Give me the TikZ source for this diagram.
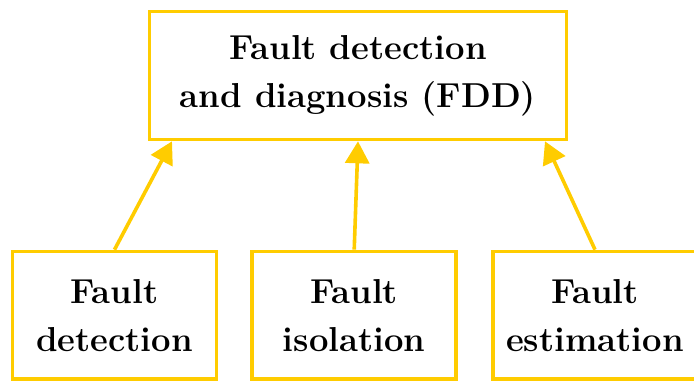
\documentclass[tikz,border=0pt]{standalone}
\usetikzlibrary{arrows.meta}
\definecolor{fddgold}{HTML}{FFCC00}
\begin{document}
\begin{tikzpicture}[x=1pt,y=1pt,
  box/.style={draw=fddgold, line width=1.8pt, align=center, inner sep=0pt,
    font=\fontsize{17.3}{24}\selectfont\bfseries},
  topbox/.style={box, minimum width=208.5pt, minimum height=64pt},
  botbox/.style={box, minimum width=102pt, minimum height=63.75pt},
  arr/.style={draw=fddgold, line width=1.8pt, -{Triangle[length=11pt,width=12pt]}}]
\useasboundingbox (0,0) rectangle (347,191);
\node[topbox] (fdd) at (179,153.25) {Fault detection\\and diagnosis (FDD)};
\node[botbox] (det) at (57.25,33.4) {Fault\\detection};
\node[botbox] (iso) at (177.1,33.4) {Fault\\isolation};
\node[botbox] (est) at (297.5,33.4) {Fault\\estimation};
\draw[arr] (det.north) -- ([xshift=-93pt]fdd.south);
\draw[arr] (iso.north) -- ([xshift=0pt]fdd.south);
\draw[arr] (est.north) -- ([xshift=93.5pt]fdd.south);
\end{tikzpicture}
\end{document}
